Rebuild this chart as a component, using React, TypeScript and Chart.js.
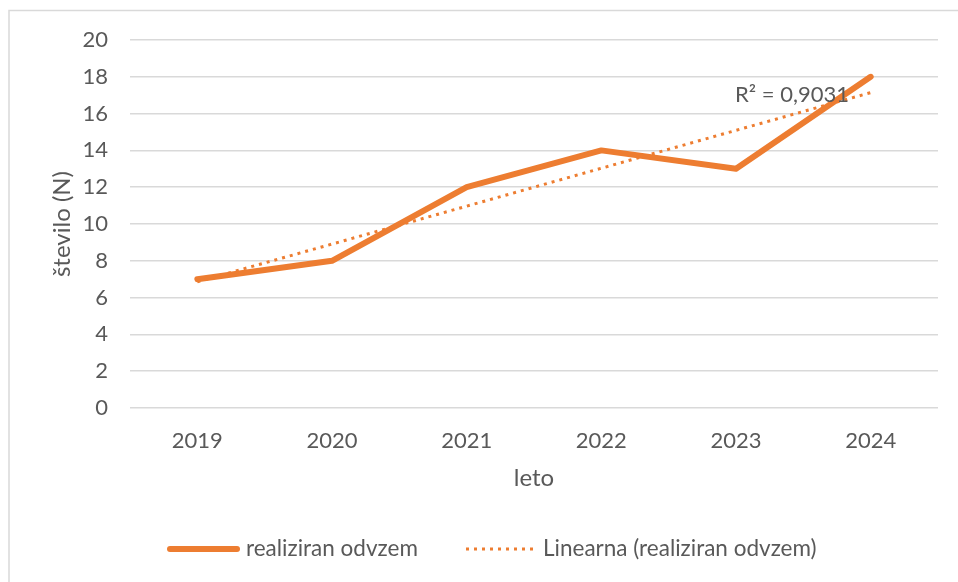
import React, { useEffect, useRef } from 'react';
import { Chart, registerables } from 'chart.js';

Chart.register(...registerables);

const years = ['2019', '2020', '2021', '2022', '2023', '2024'];
const realized = [7, 8, 12, 14, 13, 18];
const trend = [6.86, 8.91, 10.97, 13.03, 15.09, 17.14];
const yMin = 0;
const yMax = 20;
const yStep = 2;
const seriesLabel = 'realiziran odvzem';
const trendLabel = 'Linearna (realiziran odvzem)';
const r2Label = 'R² = 0,9031';
const r2Anchor = { index: 4, value: 17.0 };
const yTitle = 'število (N)';
const xTitle = 'leto';

const ORANGE = '#ED7D31';
const TEXT = '#595959';
const GRID = '#D9D9D9';
const FONT = 'Lato, "Noto Sans", sans-serif';
const TICK_SIZE = 22;

const decorPlugin = {
  id: 'decor',
  beforeDraw(chart: any) {
    const ctx = chart.ctx;
    ctx.save();
    ctx.fillStyle = '#ffffff';
    ctx.fillRect(0, 0, chart.width, chart.height);
    ctx.strokeStyle = GRID;
    ctx.lineWidth = 1.5;
    ctx.beginPath();
    ctx.moveTo(9, chart.height);
    ctx.lineTo(9, 10.5);
    ctx.lineTo(chart.width, 10.5);
    ctx.stroke();
    ctx.restore();
  },
  afterDraw(chart: any) {
    const ctx = chart.ctx;
    const xs = chart.scales.x;
    const ys = chart.scales.y;
    ctx.save();
    // R² label
    ctx.font = `${TICK_SIZE}px ${FONT}`;
    ctx.fillStyle = TEXT;
    ctx.textAlign = 'left';
    ctx.textBaseline = 'middle';
    ctx.fillText(r2Label, xs.getPixelForValue(r2Anchor.index) - 1, ys.getPixelForValue(r2Anchor.value));

    // legend
    const ly = 549;
    ctx.font = `22.5px ${FONT}`;
    ctx.strokeStyle = ORANGE;
    ctx.lineWidth = 6;
    ctx.lineCap = 'round';
    ctx.beginPath();
    ctx.moveTo(170, ly);
    ctx.lineTo(237, ly);
    ctx.stroke();
    ctx.fillText(seriesLabel, 246, ly);
    ctx.lineWidth = 3;
    ctx.lineCap = 'butt';
    ctx.setLineDash([3, 5]);
    ctx.beginPath();
    ctx.moveTo(466, ly);
    ctx.lineTo(533, ly);
    ctx.stroke();
    ctx.setLineDash([]);
    ctx.fillText(trendLabel, 543, ly);
    ctx.restore();
  },
};

export default function App() {
  const ref = useRef<HTMLCanvasElement | null>(null);

  useEffect(() => {
    document.body.style.margin = '0';
    document.body.style.overflow = 'hidden';
    const canvas = ref.current;
    if (!canvas) return;
    const chart = new Chart(canvas, {
      type: 'line',
      data: {
        labels: years,
        datasets: [
          {
            label: trendLabel,
            data: trend,
            borderColor: ORANGE,
            borderWidth: 3,
            borderDash: [3, 5],
            pointRadius: 0,
            tension: 0,
            fill: false,
            order: 0,
          },
          {
            label: seriesLabel,
            data: realized,
            borderColor: ORANGE,
            borderWidth: 6,
            borderCapStyle: 'round',
            borderJoinStyle: 'round',
            pointRadius: 0,
            tension: 0,
            fill: false,
            order: 1,
          },
        ],
      },
      options: {
        animation: false,
        responsive: false,
        devicePixelRatio: 1,
        layout: { padding: { top: 40, right: 20, bottom: 84, left: 0 } },
        plugins: {
          legend: { display: false },
          tooltip: { enabled: false },
        },
        scales: {
          x: {
            offset: true,
            grid: { display: false, drawTicks: false },
            border: { display: false },
            ticks: { color: TEXT, font: { family: FONT, size: TICK_SIZE }, padding: 20 },
            title: {
              display: true,
              text: xTitle,
              color: TEXT,
              font: { family: FONT, size: 24 },
              padding: { top: 0, bottom: 5 },
            },
            afterFit(scale: any) {
              scale.height = 90;
            },
          },
          y: {
            min: yMin,
            max: yMax,
            grid: { color: GRID, lineWidth: 1.5, drawTicks: false },
            border: { display: false },
            ticks: { stepSize: yStep, color: TEXT, font: { family: FONT, size: TICK_SIZE }, padding: 22 },
            title: {
              display: true,
              text: yTitle,
              color: TEXT,
              font: { family: FONT, size: 24 },
              padding: { top: 48, bottom: 0 },
            },
            afterFit(scale: any) {
              scale.width = 130;
            },
          },
        },
      },
      plugins: [decorPlugin],
    } as any);
    return () => chart.destroy();
  }, []);

  return (
    <div style={{ width: 958, height: 582 }}>
      <canvas ref={ref} width={958} height={582} style={{ display: 'block', width: 958, height: 582 }} />
    </div>
  );
}
